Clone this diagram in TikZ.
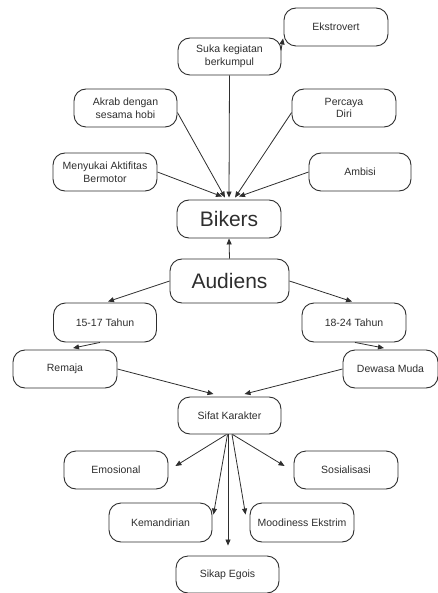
\documentclass[tikz,border=0pt]{standalone}
\usepackage{fontspec}
\setmainfont{Liberation Sans}
\usetikzlibrary{arrows.meta}
\definecolor{ink}{HTML}{2E2E2E}
\begin{document}
\begin{tikzpicture}[x=1pt,y=-1pt,
  box/.style={draw=ink,line width=0.9pt,rounded corners=12pt,minimum width=104pt,minimum height=38pt,inner sep=0pt,align=center,text=ink,font=\fontsize{10.5}{12.5}\selectfont},
  bigbox/.style={box,font=\fontsize{21}{24}\selectfont},
  conn/.style={draw=ink,line width=0.8pt,-{Triangle[length=6pt,width=5pt]}}]
\useasboundingbox (0,0) rectangle (438,593);
% nodes
\node[box] (ekstro) at (336,27) {Ekstrovert};
\node[box,minimum width=103pt,minimum height=37pt] (suka) at (229.5,56.5) {Suka kegiatan\\berkumpul};
\node[box,minimum width=103pt] (akrab) at (125.5,108) {Akrab dengan\\sesama hobi};
\node[box] (percaya) at (344,108) {Percaya\\Diri};
\node[box] (menyukai) at (105,172) {Menyukai Aktifitas\\Bermotor};
\node[box,minimum width=102pt] (ambisi) at (360,172) {Ambisi};
\node[bigbox] (bikers) at (229,219) {Bikers};
\node[bigbox,minimum width=119pt,minimum height=44pt] (audiens) at (229.5,281) {Audiens};
\node[box,minimum width=103pt,minimum height=39pt] (t1517) at (105,322.5) {15-17 Tahun};
\node[box,minimum height=39pt] (t1824) at (354,322.5) {18-24 Tahun};
\node[box] (remaja) at (65,369) {Remaja};
\node[box,minimum width=95pt] (dewasa) at (390.5,369) {Dewasa Muda};
\node[box,minimum width=103pt,minimum height=37pt] (sifat) at (229.5,415.5) {Sifat Karakter};
\node[box] (emo) at (116,470) {Emosional};
\node[box] (sos) at (346,470) {Sosialisasi};
\node[box,minimum width=103pt,minimum height=39pt] (kem) at (160.5,522.5) {Kemandirian};
\node[box,minimum height=39pt] (mood) at (302,522.5) {Moodiness Ekstrim};
\node[box,minimum width=103pt,minimum height=37pt] (sikap) at (227.5,574.5) {Sikap Egois};
% connectors to Bikers
\draw[conn] ([xshift=-0.5pt,yshift=6pt]suka.east) -- ([xshift=-0.5pt,yshift=8pt]ekstro.south west);
\draw[conn] (suka.south) -- ([xshift=0pt,yshift=2pt]bikers.north);
\draw[conn] (akrab.-5) -- ([xshift=-4pt,yshift=2pt]bikers.north);
\draw[conn] (percaya.185) -- ([xshift=6pt,yshift=2pt]bikers.north);
\draw[conn] (menyukai.east) -- ([xshift=-7pt,yshift=3pt]bikers.north);
\draw[conn] (ambisi.west) -- ([xshift=10pt,yshift=3pt]bikers.north);
% Audiens
\draw[conn] (audiens.north) -- (bikers.south);
\draw[conn] (audiens.west) -- ([xshift=3pt,yshift=1pt]t1517.north);
\draw[conn] (audiens.east) -- ([xshift=-2pt,yshift=1pt]t1824.north);
\draw[conn] ([xshift=-5pt]t1517.south) -- ([xshift=8pt,yshift=1.5pt]remaja.north);
\draw[conn] ([xshift=1pt]t1824.south) -- ([xshift=-6.5pt,yshift=1.5pt]dewasa.north);
\draw[conn] (remaja.east) -- ([xshift=-16pt,yshift=2.5pt]sifat.north);
\draw[conn] (dewasa.west) -- ([xshift=15pt,yshift=2.5pt]sifat.north);
% Sifat Karakter
\draw[conn] ([xshift=-3pt]sifat.south) -- ([xshift=7pt,yshift=4pt]emo.east);
\draw[conn] ([xshift=3pt]sifat.south) -- ([xshift=-9pt,yshift=4pt]sos.west);
\draw[conn] ([xshift=-2pt]sifat.south) -- ([xshift=1pt,yshift=-12pt]kem.north east);
\draw[conn] ([xshift=2.5pt]sifat.south) -- ([xshift=-4pt,yshift=-12pt]mood.north west);
\draw[conn] ([xshift=-1.5pt]sifat.south) -- ([xshift=0.5pt,yshift=10pt]sikap.north);
\end{tikzpicture}
\end{document}
